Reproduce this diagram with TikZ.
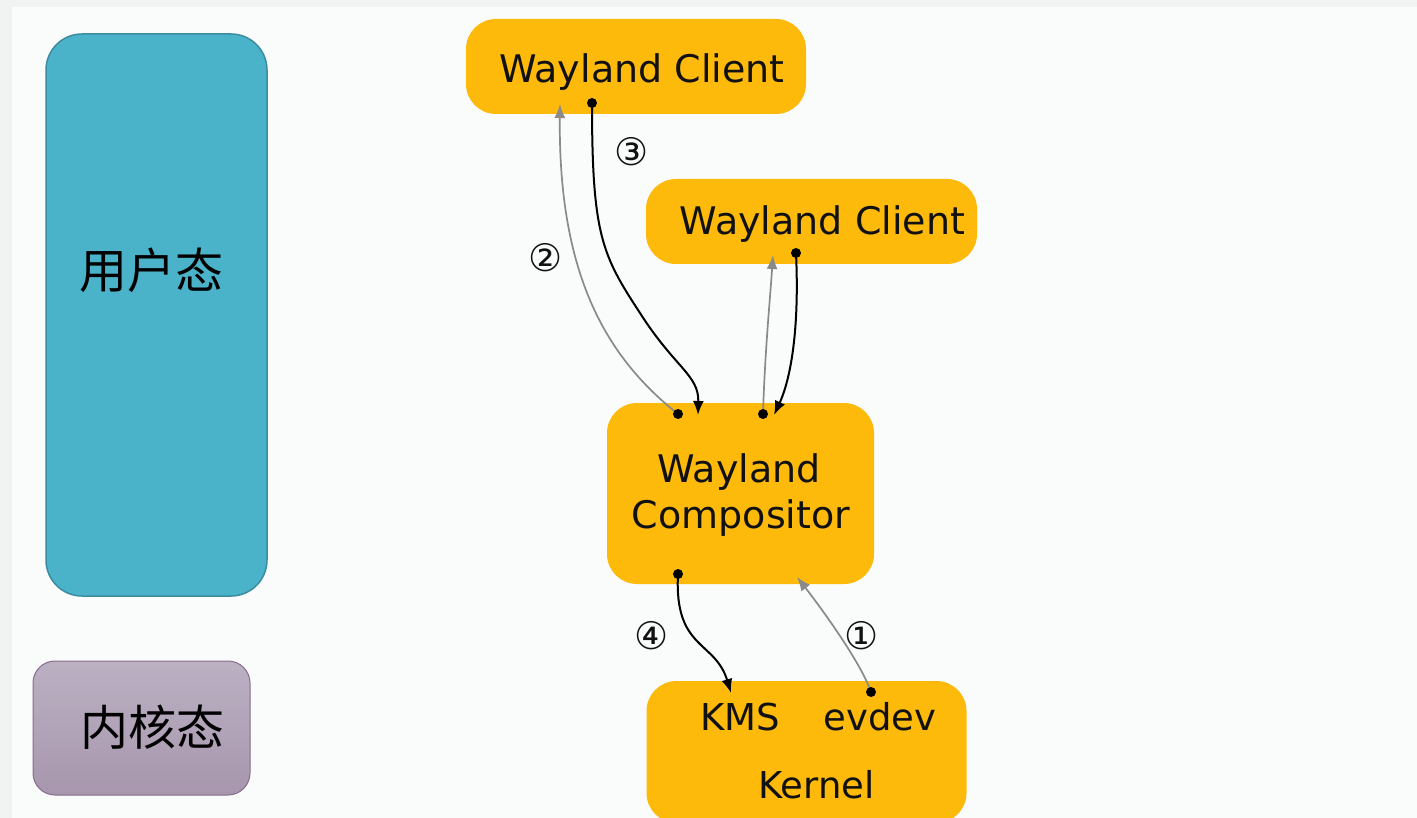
\documentclass[tikz,border=0pt]{standalone}
\usepackage{fontspec}
\setmainfont{DejaVu Sans}
\newfontfamily\cjk{Noto Sans CJK SC}
\usetikzlibrary{arrows.meta}
\definecolor{framegray}{HTML}{F1F2F2}
\definecolor{paper}{HTML}{FAFCFC}
\definecolor{amber}{HTML}{FDBA0A}
\definecolor{userfill}{HTML}{4BB3C9}
\definecolor{userline}{HTML}{3B8C9E}
\definecolor{kerntop}{HTML}{BBB1C3}
\definecolor{kernbot}{HTML}{A796AD}
\definecolor{kernline}{HTML}{866D8C}
\definecolor{ink}{HTML}{111111}
\definecolor{reply}{HTML}{8A8A8A}
\tikzset{
  box/.style={fill=amber, rounded corners=30pt, inner sep=0pt},
  lbl/.style={text=ink, font=\fontsize{38pt}{46pt}\selectfont, inner sep=0pt},
  klbl/.style={text=ink, font=\fontsize{37pt}{44pt}\selectfont, inner sep=0pt},
  cjklbl/.style={text=black, font=\cjk\fontsize{48pt}{56pt}\selectfont, inner sep=0pt},
  numlbl/.style={text=ink, font=\fontsize{38pt}{44pt}\selectfont, inner sep=0pt},
  request/.style={draw=black, line width=2pt, -{Latex[length=14pt,width=11pt]}},
  answer/.style={draw=reply, line width=1.7pt, -{Latex[length=14pt,width=11pt]}},
  dotend/.style={fill=black},
}
\begin{document}
\begin{tikzpicture}[x=1pt,y=-1pt]
\useasboundingbox (0,0) rectangle (1417,818);
% page frame and sheet
\fill[framegray] (0,0) rectangle (1417,818);
\fill[paper] (12,7) rectangle (1417,818);

% mode legend on the left
\node[draw=userline, line width=1.5pt, fill=userfill, rounded corners=36pt,
      minimum width=221pt, minimum height=562pt, inner sep=0pt] (userspace) at (156.5,315) {};
\node[cjklbl] (usertext) at (151,270) {用户态};
\node[draw=kernline, line width=1pt, top color=kerntop, bottom color=kernbot, rounded corners=22pt,
      minimum width=217pt, minimum height=134pt, inner sep=0pt] (kernelspace) at (141.5,728) {};
\node[cjklbl] (kerntext) at (152,727) {内核态};

% components
\node[box, minimum width=340pt, minimum height=95pt] (client1) at (636,66.5) {};
\node[lbl, anchor=base] (client1text) at (642,83) {Wayland Client};
\node[box, minimum width=331pt, minimum height=85pt] (client2) at (811.5,221.5) {};
\node[lbl, anchor=base] (client2text) at (822.5,235) {Wayland Client};
\node[box, minimum width=267pt, minimum height=181pt] (compositor) at (740.5,493.5) {};
\node[lbl, anchor=base] (comptext1) at (739,482) {Wayland};
\node[lbl, anchor=base] (comptext2) at (741,528) {Compositor};
\node[box, minimum width=320pt, minimum height=142pt] (kernel) at (806.5,752) {};
\node[klbl, anchor=base] (kms) at (740,730) {KMS};
\node[klbl, anchor=base] (evdev) at (880,730) {evdev};
\node[klbl, anchor=base] (kerneltext) at (816.5,798) {Kernel};

% attachment points on the boxes
\coordinate (c1in)  at (560,104);
\coordinate (c1out) at (592,103);
\coordinate (c2in)  at (773,255);
\coordinate (c2out) at (796,253);
\coordinate (wc1in)  at (698,415);
\coordinate (wc1out) at (678,414);
\coordinate (wc2in)  at (774,415);
\coordinate (wc2out) at (763,414);
\coordinate (wkout) at (678,574);
\coordinate (wkin)  at (797,577);
\coordinate (kmsin) at (731,693);
\coordinate (evout) at (871,692);

% message flow
\draw[answer] (evout) .. controls (860,660) and (815,600) .. (wkin);
\draw[answer] (wc1out) .. controls (610,360) and (558,280) .. (c1in);
\draw[request] (c1out) .. controls (592,235) and (602,255) .. (640,313)
               .. controls (675,368) and (699,375) .. (wc1in);
\draw[answer] (wc2out) .. controls (765,350) and (770,300) .. (c2in);
\draw[request] (c2out) .. controls (800,340) and (788,385) .. (wc2in);
\draw[request] (wkout) .. controls (674,650) and (715,640) .. (kmsin);

\foreach \p in {c1out,c2out,wc1out,wc2out,wkout,evout}
  \fill[dotend] (\p) circle (5);

% step numbers
\node[numlbl] (step1) at (862,636) {①};
\node[numlbl] (step2) at (546,258) {②};
\node[numlbl] (step3) at (632,152) {③};
\node[numlbl] (step4) at (652,636) {④};
\end{tikzpicture}
\end{document}
